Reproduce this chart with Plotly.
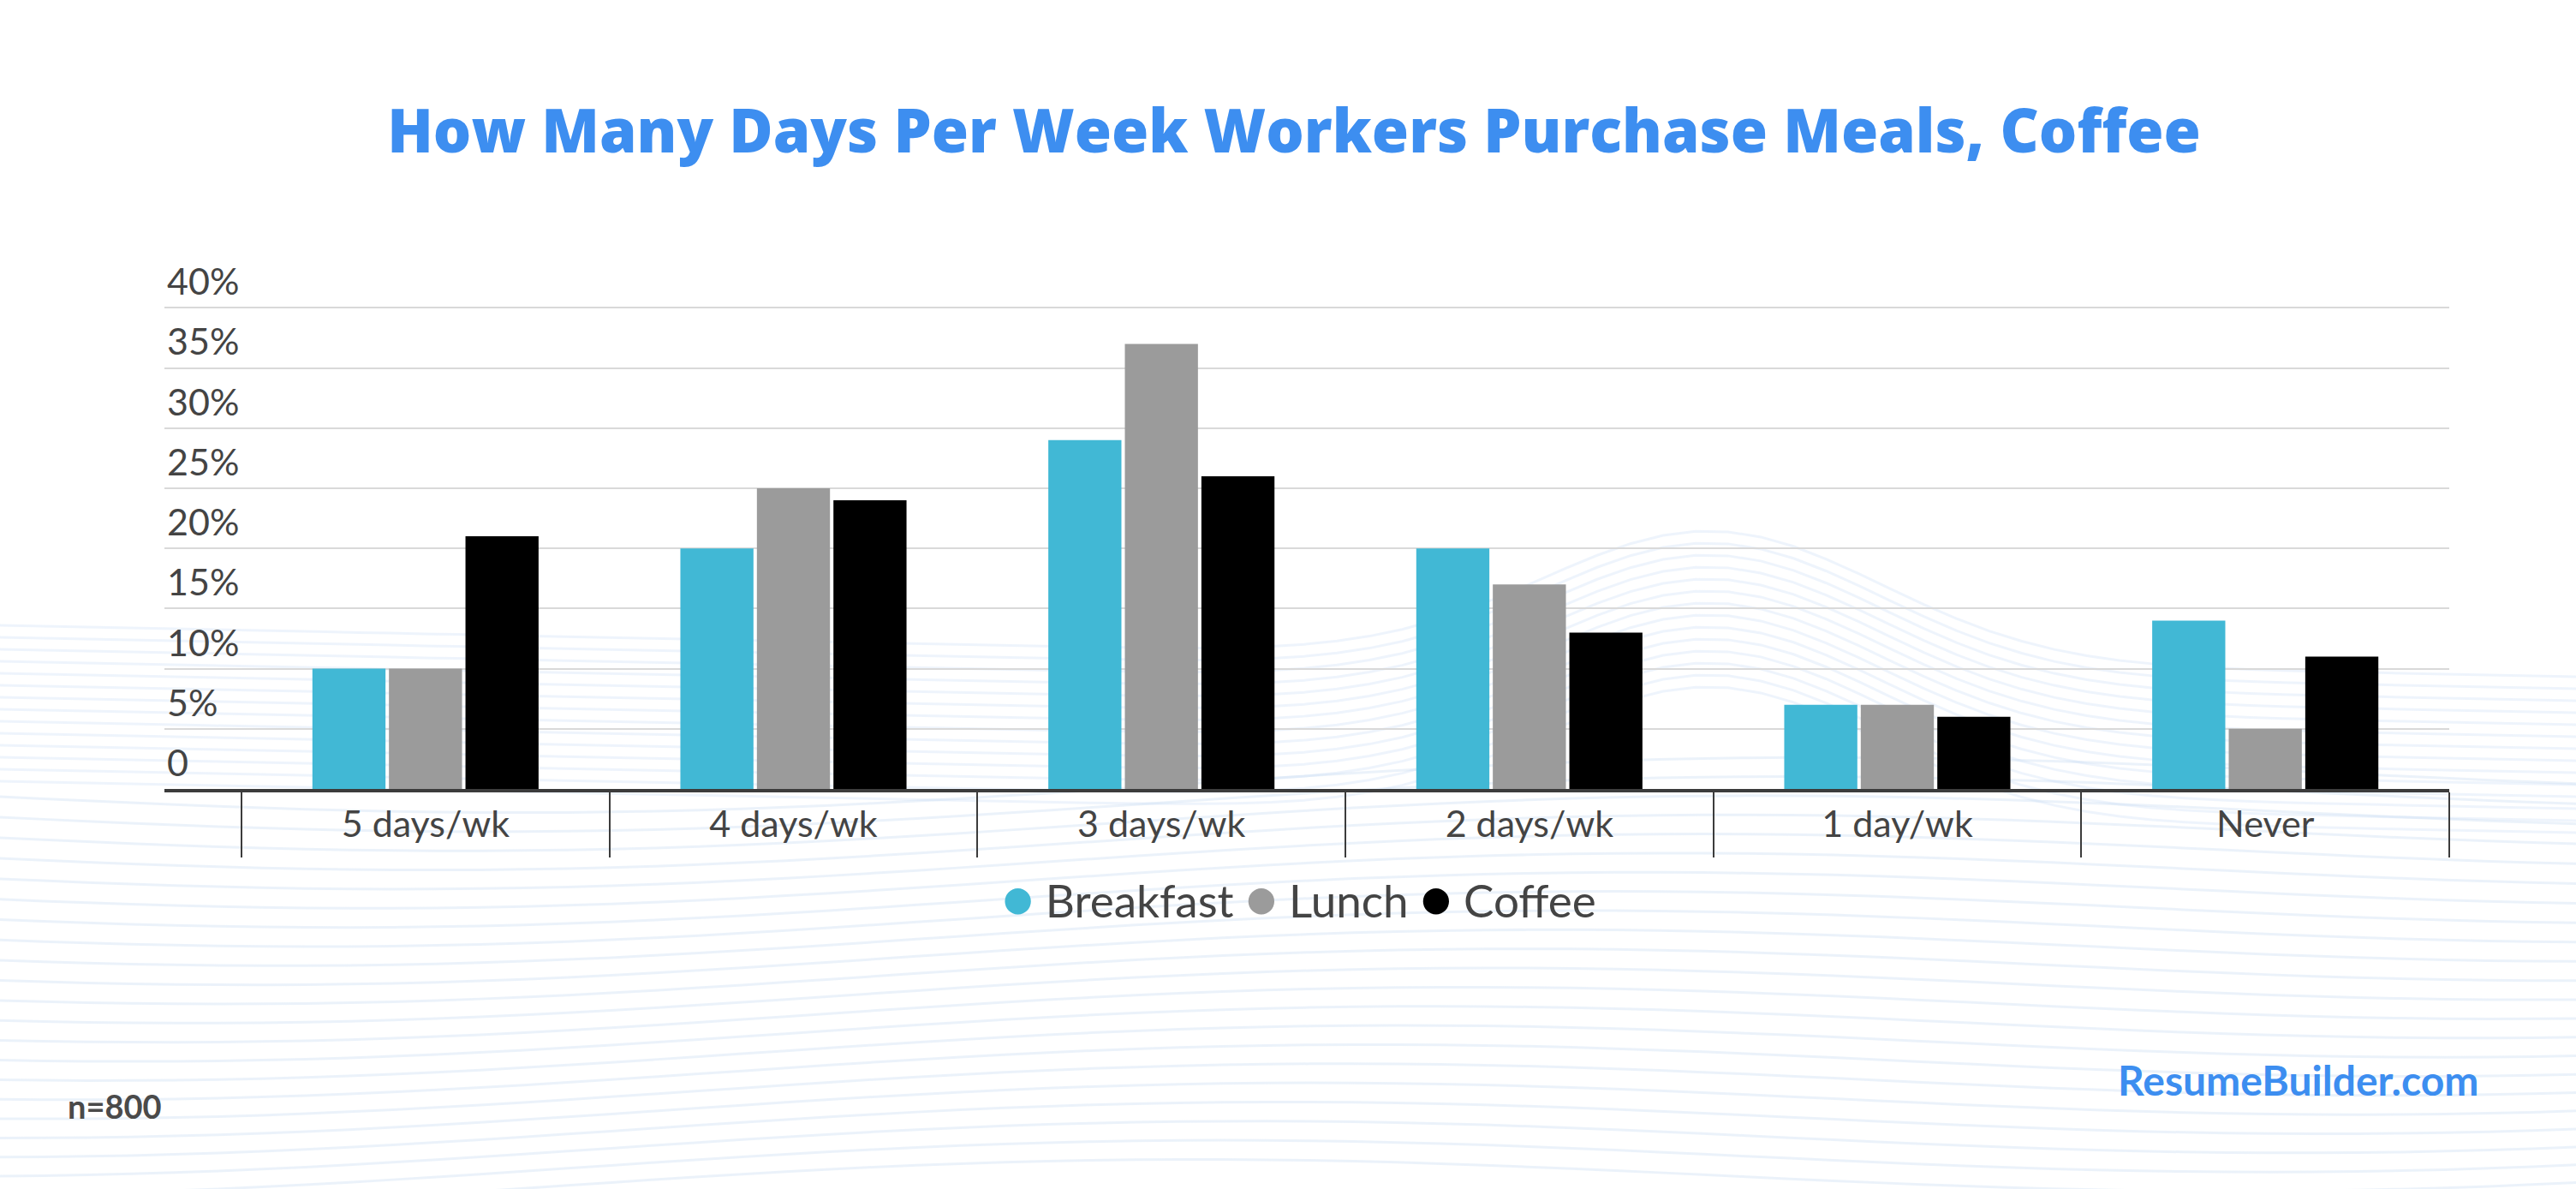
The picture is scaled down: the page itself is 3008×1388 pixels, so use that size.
import numpy as np
import plotly.graph_objects as go

categories = ["5 days/wk", "4 days/wk", "3 days/wk", "2 days/wk", "1 day/wk", "Never"]
breakfast = [10, 20, 29, 20, 7, 14]
lunch = [10, 25, 37, 17, 7, 5]
coffee = [21, 24, 26, 13, 6, 11]
series_names = ["Breakfast", "Lunch", "Coffee"]
series_colors = ["#41b8d5", "#9b9b9b", "#000000"]
y_tickvals = [0, 5, 10, 15, 20, 25, 30, 35, 40]
y_ticktext = ["0", "5%", "10%", "15%", "20%", "25%", "30%", "35%", "40%"]

W, H = 3008, 1388
L, R = 192, 2860
BOT = 921
UNIT = 14.05  # px per percentage point
YMAX = 47
TOP = round(BOT - YMAX * UNIT)
PW, PH = R - L, BOT - TOP


def px2paper(x, y):
    return (x - L) / PW, (BOT - y) / PH


fig = go.Figure()
for name, vals, col in zip(series_names, [breakfast, lunch, coffee], series_colors):
    fig.add_trace(go.Bar(x=categories, y=vals, name=name, marker=dict(color=col, line=dict(width=0)),
                         showlegend=False))

# legend drawn as text: coloured dots followed by series names
legend_text = " ".join(
    f"<span style='color:{c};font-size:62px'>●</span> {n}" for n, c in zip(series_names, series_colors)
)

# faint decorative background waves
shapes = []
for i in range(22):
    xs = np.linspace(0, W, 60)
    base = 930 + i * 22
    ys = base + 25 * np.sin(xs / W * 2 * np.pi * 1.1 + i * 0.08) - (xs / W) * 30
    pts = [px2paper(a, b) for a, b in zip(xs, ys)]
    path = "M " + " L ".join(f"{p[0]:.4f},{p[1]:.4f}" for p in pts)
    shapes.append(dict(type="path", xref="paper", yref="paper", path=path, layer="below",
                       line=dict(color="rgba(190,212,240,0.30)", width=3)))
for i in range(14):
    xs = np.linspace(0, W, 80)
    ys = 730 + i * 14 - 150 * np.exp(-((xs - 2000) / 280) ** 2) + (xs / W) * 60
    pts = [px2paper(a, b) for a, b in zip(xs, ys)]
    path = "M " + " L ".join(f"{p[0]:.4f},{p[1]:.4f}" for p in pts)
    shapes.append(dict(type="path", xref="paper", yref="paper", path=path, layer="below",
                       line=dict(color="rgba(200,220,245,0.30)", width=3)))

fig.update_layout(
    width=W, height=H, autosize=False,
    margin=dict(l=L, r=W - R, t=TOP, b=H - BOT, pad=0),
    paper_bgcolor="white", plot_bgcolor="rgba(0,0,0,0)",
    barmode="group", bargap=0.376, bargroupgap=0.045,
    showlegend=False,
    font=dict(family="Lato, Open Sans, sans-serif", color="#444444"),
    title=dict(text="How Many Days Per Week Workers Purchase Meals, Coffee",
               x=1511 / W, xanchor="center", y=1 - 153 / H, yanchor="middle",
               font=dict(family="Open Sans, sans-serif", size=70, color="#3d8ef0", weight=800)),
    xaxis=dict(type="category", range=[-0.5 - 90 / 429.6, 5.5], showline=True, linecolor="#3c3c3c",
               linewidth=4, ticks="outside", tickson="boundaries", ticklen=76, tickwidth=2,
               tickcolor="#3c3c3c", tickfont=dict(size=43, color="#444444"), showgrid=False,
               ticklabelstandoff=0, fixedrange=True),
    yaxis=dict(range=[0, YMAX], tickvals=y_tickvals, ticktext=y_ticktext, showgrid=True,
               gridcolor="#d9d9d9", gridwidth=2, zeroline=False, showline=False,
               ticklabelposition="inside top", tickfont=dict(size=43, color="#444444"),
               ticks="", fixedrange=True),
    shapes=shapes,
    annotations=[
        dict(text=legend_text, xref="paper", yref="paper", x=px2paper(1517, 0)[0], xanchor="center",
             y=px2paper(0, 1047)[1], yanchor="middle", showarrow=False,
             font=dict(size=53, color="#444444")),
        dict(text="<b>n=800</b>", xref="paper", yref="paper", x=px2paper(77, 0)[0], xanchor="left",
             y=px2paper(0, 1291)[1], yanchor="middle", showarrow=False,
             font=dict(size=38, color="#4a4a4a")),
        dict(text="<b>ResumeBuilder.com</b>", xref="paper", yref="paper", x=px2paper(2896, 0)[0],
             xanchor="right", y=px2paper(0, 1260)[1], yanchor="middle", showarrow=False,
             font=dict(size=48, color="#3d8ef0")),
    ],
)

fig.write_html("out.html")
